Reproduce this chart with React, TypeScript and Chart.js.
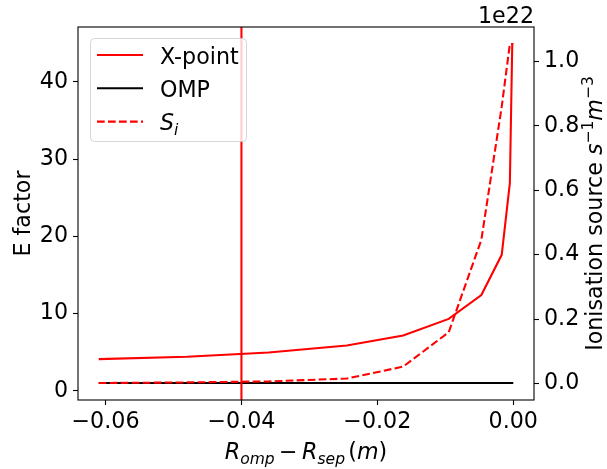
import React, { useEffect, useRef } from "react";
import { Chart, registerables } from "chart.js";

Chart.register(...registerables);

// ---- data ----
const R_DIST = [-0.061, -0.048, -0.036, -0.0245, -0.0162, -0.0095, -0.0047, -0.0017, -0.0005, -0.00015, 0];
const E_XPOINT = [4.1, 4.4, 4.95, 5.85, 7.15, 9.3, 12.4, 17.6, 26.9, 44.9, 44.9];
const E_OMP = [1, 1, 1, 1, 1, 1, 1, 1, 1, 1, 1];
const S_ION = [0.001e22, 0.003e22, 0.006e22, 0.015e22, 0.052e22, 0.159e22, 0.446e22, 0.86e22, 1.055e22, 1.055e22, 1.055e22];
const X_TICKS = [-0.06, -0.04, -0.02, 0];
const Y_TICKS = [0, 10, 20, 30, 40];
const Y2_TICKS = [0, 0.2e22, 0.4e22, 0.6e22, 0.8e22, 1.0e22];
const VLINE_X = -0.04;
const OFFSET_TEXT = "1e22";

const FONT = "'DejaVu Sans'";
const FS = 22.2;
const LW = 2.08;

function pad(min: number, max: number) {
  const m = (max - min) * 0.05;
  return [min - m, max + m];
}

type Run = { t: string; it?: boolean; s?: number; dy?: number; gap?: number };

function drawRuns(ctx: CanvasRenderingContext2D, runs: Run[], cx: number, y: number, align: "center" | "left") {
  const widths = runs.map((r) => {
    ctx.font = `${r.it ? "italic " : ""}${FS * (r.s ?? 1)}px ${FONT}`;
    return ctx.measureText(r.t).width + (r.gap ?? 0) * FS;
  });
  const total = widths.reduce((a, b) => a + b, 0);
  let x = align === "center" ? cx - total / 2 : cx;
  ctx.textAlign = "left";
  ctx.textBaseline = "alphabetic";
  runs.forEach((r, i) => {
    ctx.font = `${r.it ? "italic " : ""}${FS * (r.s ?? 1)}px ${FONT}`;
    ctx.fillText(r.t, x, y + (r.dy ?? 0) * FS);
    x += widths[i];
  });
}

const decorPlugin = {
  id: "decor",
  afterDatasetsDraw(chart: any) {
    const { ctx, chartArea, scales } = chart;
    const px = scales.x.getPixelForValue(VLINE_X);
    ctx.save();
    ctx.strokeStyle = "#ff0000";
    ctx.lineWidth = LW;
    ctx.beginPath();
    ctx.moveTo(px, chartArea.top);
    ctx.lineTo(px, chartArea.bottom);
    ctx.stroke();
    ctx.restore();
  },
  afterDraw(chart: any) {
    const { ctx, chartArea } = chart;
    const { left, right, top, bottom } = chartArea;
    ctx.save();
    // spines
    ctx.strokeStyle = "#000";
    ctx.lineWidth = 1.1;
    ctx.strokeRect(left, top, right - left, bottom - top);
    ctx.fillStyle = "#000";

    // left title
    const cy = (top + bottom) / 2;
    ctx.save();
    ctx.translate(30, cy);
    ctx.rotate(-Math.PI / 2);
    drawRuns(ctx, [{ t: "E factor" }], 0, 0, "center");
    ctx.restore();

    // right title
    ctx.save();
    ctx.translate(602, cy);
    ctx.rotate(-Math.PI / 2);
    drawRuns(
      ctx,
      [
        { t: "Ionisation source " },
        { t: "s", it: true },
        { t: "\u22121", s: 0.7, dy: -0.4 },
        { t: "m", it: true },
        { t: "\u22123", s: 0.7, dy: -0.4 },
      ],
      0,
      0,
      "center"
    );
    ctx.restore();

    // offset text
    ctx.font = `${FS}px ${FONT}`;
    ctx.textAlign = "right";
    ctx.textBaseline = "alphabetic";
    ctx.fillText(OFFSET_TEXT, right, 22.5);

    // x title
    drawRuns(
      ctx,
      [
        { t: "R", it: true },
        { t: "omp", it: true, s: 0.7, dy: 0.22, gap: 0.2 },
        { t: "\u2212", gap: 0.2 },
        { t: "R", it: true },
        { t: "sep", it: true, s: 0.7, dy: 0.22, gap: 0.15 },
        { t: "(" },
        { t: "m", it: true },
        { t: ")" },
      ],
      (left + right) / 2,
      459,
      "center"
    );

    // legend
    const lx = 90.5, ly = 38.5, lw = 156, lh = 103, r = 4;
    ctx.beginPath();
    ctx.moveTo(lx + r, ly);
    ctx.arcTo(lx + lw, ly, lx + lw, ly + lh, r);
    ctx.arcTo(lx + lw, ly + lh, lx, ly + lh, r);
    ctx.arcTo(lx, ly + lh, lx, ly, r);
    ctx.arcTo(lx, ly, lx + lw, ly, r);
    ctx.closePath();
    ctx.fillStyle = "rgba(255,255,255,0.8)";
    ctx.fill();
    ctx.strokeStyle = "rgba(204,204,204,0.8)";
    ctx.lineWidth = 1;
    ctx.stroke();

    const rows = [
      { color: "#ff0000", dash: [] as number[], label: [{ t: "X-point" }] as Run[] },
      { color: "#000000", dash: [] as number[], label: [{ t: "OMP" }] as Run[] },
      { color: "#ff0000", dash: [7.7, 3.3], label: [{ t: "S", it: true }, { t: "i", it: true, s: 0.7, dy: 0.22 }] as Run[] },
    ];
    rows.forEach((row, i) => {
      const y = 55 + i * 33.3;
      ctx.strokeStyle = row.color;
      ctx.lineWidth = LW;
      ctx.setLineDash(row.dash);
      ctx.beginPath();
      ctx.moveTo(97, y);
      ctx.lineTo(143, y);
      ctx.stroke();
      ctx.setLineDash([]);
      ctx.fillStyle = "#000";
      drawRuns(ctx, row.label, 160, y + 8.5, "left");
    });
    ctx.restore();
  },
};

export default function App() {
  const ref = useRef<HTMLCanvasElement | null>(null);
  useEffect(() => {
    document.body.style.margin = "0";
    const [xmin, xmax] = pad(Math.min(...R_DIST), Math.max(...R_DIST));
    const allE = [...E_XPOINT, ...E_OMP];
    const [ymin, ymax] = pad(Math.min(...allE), Math.max(...allE));
    const [y2min, y2max] = pad(Math.min(...S_ION), Math.max(...S_ION));
    const pts = (ys: number[]) => R_DIST.map((x, i) => ({ x, y: ys[i] }));
    const tickFont = { family: FONT, size: FS };
    const grid = { display: true, drawOnChartArea: false, drawTicks: true, tickLength: 5, tickColor: "#000", tickWidth: 1.1 };
    const chart = new Chart(ref.current as HTMLCanvasElement, {
      type: "line",
      data: {
        datasets: [
          { label: "S_i", data: pts(S_ION), yAxisID: "y2", borderColor: "#ff0000", borderWidth: LW, borderDash: [7.7, 3.3], pointRadius: 0, order: 0 },
          { label: "X-point", data: pts(E_XPOINT), yAxisID: "y", borderColor: "#ff0000", borderWidth: LW, pointRadius: 0, order: 1 },
          { label: "OMP", data: pts(E_OMP), yAxisID: "y", borderColor: "#000000", borderWidth: LW, pointRadius: 0, order: 2 },
        ],
      },
      options: {
        animation: false,
        responsive: true,
        maintainAspectRatio: false,
        layout: { padding: { top: 27, left: 0, right: 0, bottom: 0 } },
        plugins: { legend: { display: false }, tooltip: { enabled: false } },
        scales: {
          x: {
            type: "linear",
            min: xmin,
            max: xmax,
            grid,
            border: { display: false },
            afterBuildTicks: (s: any) => { s.ticks = X_TICKS.map((v) => ({ value: v })); },
            afterFit: (s: any) => { s.height = 69; },
            ticks: {
              font: tickFont,
              color: "#000",
              padding: 4,
              maxRotation: 0,
              callback: (v: any) => (Number(v) === 0 ? "0.00" : (Number(v) < 0 ? "\u2212" : "") + Math.abs(Number(v)).toFixed(2)),
            },
          },
          y: {
            type: "linear",
            position: "left",
            min: ymin,
            max: ymax,
            grid,
            border: { display: false },
            afterBuildTicks: (s: any) => { s.ticks = Y_TICKS.map((v) => ({ value: v })); },
            afterFit: (s: any) => { s.width = 78; },
            ticks: { font: tickFont, color: "#000", padding: 5, callback: (v: any) => String(v) },
          },
          y2: {
            type: "linear",
            position: "right",
            min: y2min,
            max: y2max,
            grid,
            border: { display: false },
            afterBuildTicks: (s: any) => { s.ticks = Y2_TICKS.map((v) => ({ value: v })); },
            afterFit: (s: any) => { s.width = 73; },
            ticks: { font: tickFont, color: "#000", padding: 5, callback: (v: any) => (Number(v) / 1e22).toFixed(1) },
          },
        },
      },
      plugins: [decorPlugin],
    } as any);
    return () => chart.destroy();
  }, []);
  return (
    <div style={{ position: "fixed", left: 0, top: 0, width: 607, height: 469, background: "#fff" }}>
      <canvas ref={ref} />
    </div>
  );
}
